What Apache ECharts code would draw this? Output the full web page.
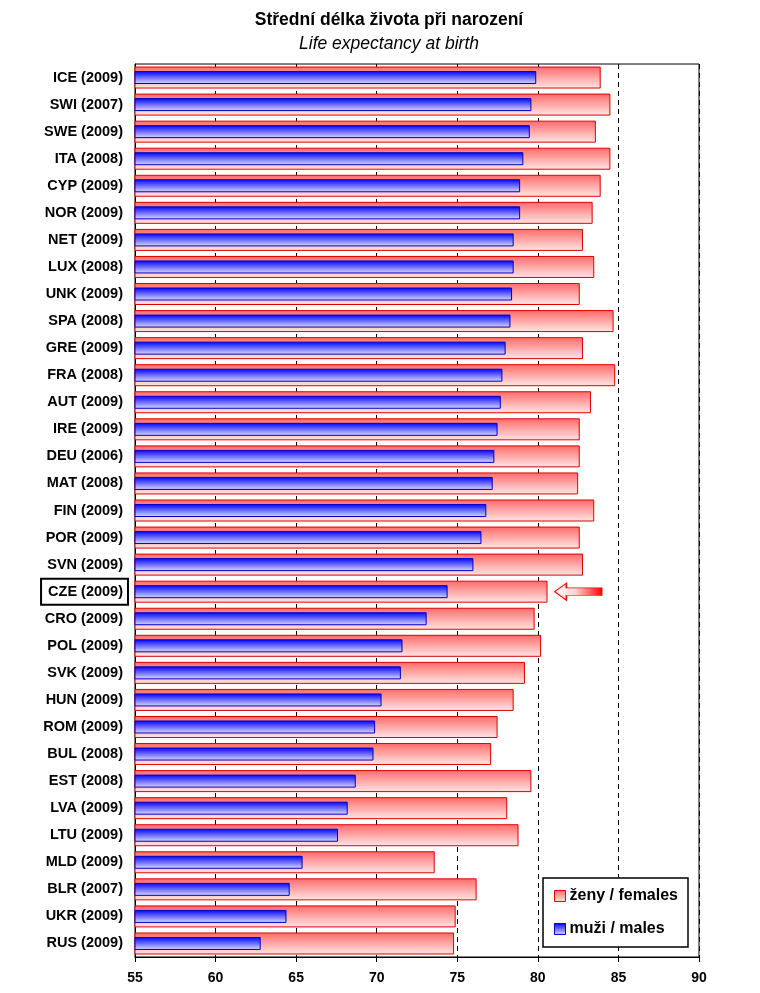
<!DOCTYPE html>
<html><head><meta charset="utf-8">
<script src="https://cdn.jsdelivr.net/npm/echarts@6/dist/echarts.min.js"></script>
<style>html,body{margin:0;padding:0;background:#fff}#c{width:760px;height:993px}</style>
</head><body><div id="c"></div>
<script>
const categories = ["ICE (2009)","SWI (2007)","SWE (2009)","ITA (2008)","CYP (2009)","NOR (2009)","NET (2009)","LUX (2008)","UNK (2009)","SPA (2008)","GRE (2009)","FRA (2008)","AUT (2009)","IRE (2009)","DEU (2006)","MAT (2008)","FIN (2009)","POR (2009)","SVN (2009)","CZE (2009)","CRO (2009)","POL (2009)","SVK (2009)","HUN (2009)","ROM (2009)","BUL (2008)","EST (2008)","LVA (2009)","LTU (2009)","MLD (2009)","BLR (2007)","UKR (2009)","RUS (2009)"];
const females = [83.9,84.5,83.6,84.5,83.9,83.4,82.8,83.5,82.6,84.7,82.8,84.8,83.3,82.6,82.6,82.5,83.5,82.6,82.8,80.6,79.8,80.2,79.2,78.5,77.5,77.1,79.6,78.1,78.8,73.6,76.2,74.9,74.8];
const males = [79.9,79.6,79.5,79.1,78.9,78.9,78.5,78.5,78.4,78.3,78.0,77.8,77.7,77.5,77.3,77.2,76.8,76.5,76.0,74.4,73.1,71.6,71.5,70.3,69.9,69.8,68.7,68.2,67.6,65.4,64.6,64.4,62.8];
const xTicks = [55,60,65,70,75,80,85,90];
const highlight = "CZE (2009)";
const arrowValue = 82.5;

const chart = echarts.init(document.getElementById('c'), null, {renderer:'canvas'});
const fem = new echarts.graphic.LinearGradient(0,0,0,1,[{offset:0,color:'#ff6a6a'},{offset:1,color:'#ffe6e6'}]);
const mal = new echarts.graphic.LinearGradient(0,0,0,1,[{offset:0,color:'#0000ff'},{offset:1,color:'#dcdcff'}]);
const FONT = 'Liberation Sans, Arial';
const catAxis = (show) => ({
  type:'category', data:categories, inverse:true, show:show,
  axisLine:{show:true,lineStyle:{color:'#000',width:1}},
  axisTick:{show:false},
  axisLabel:{
    margin:7,
    formatter: v => v===highlight ? '{box|'+v+'}' : '{n|'+v+'}',
    rich:{
      n:{fontFamily:FONT,fontWeight:'bold',fontSize:14.5,color:'#000',padding:[0,5,0,0]},
      box:{fontFamily:FONT,fontWeight:'bold',fontSize:14.5,color:'#000',padding:[6,5,5,7],borderColor:'#000',borderWidth:2}
    }
  }
});
chart.setOption({
  animation:false,
  backgroundColor:'#fff',
  title:[
    {text:'Střední délka života při narození',left:384,top:6,textAlign:'center',
     textStyle:{fontFamily:FONT,fontWeight:'bold',fontSize:17.5,color:'#000'}},
    {text:'Life expectancy at birth',left:384,top:30,textAlign:'center',
     textStyle:{fontFamily:FONT,fontWeight:'normal',fontStyle:'italic',fontSize:17.5,color:'#000'}}
  ],
  grid:{left:135,right:61,top:64,bottom:36,show:true,borderColor:'#000',borderWidth:1,containLabel:false},
  legend:{
    orient:'vertical',left:543,top:878,
    padding:[10,10,10,11],itemGap:17,
    backgroundColor:'#fff',borderColor:'#000',borderWidth:1.5,
    itemWidth:11,itemHeight:11,icon:'rect',
    textStyle:{fontFamily:FONT,fontWeight:'bold',fontSize:16,color:'#000',padding:[0,0,0,-1]},
    data:[
      {name:'ženy / females',itemStyle:{color:fem,borderColor:'#e00000',borderWidth:1}},
      {name:'muži / males',itemStyle:{color:mal,borderColor:'#0000c0',borderWidth:1}}
    ]
  },
  xAxis:{
    type:'value',min:55,max:90,interval:5,
    axisLine:{show:true,lineStyle:{color:'#000'}},
    axisTick:{show:true,length:5,inside:false,lineStyle:{color:'#000'}},
    axisLabel:{margin:14,fontFamily:FONT,fontWeight:'bold',fontSize:14,color:'#000',
      formatter: v => xTicks.includes(v) ? String(v) : ''},
    splitLine:{show:true,lineStyle:{color:'#000',type:[5,4],width:1}}
  },
  yAxis:[catAxis(true), Object.assign(catAxis(false),{axisLine:{show:false}})],
  series:[
    {name:'ženy / females',type:'bar',yAxisIndex:0,data:females,barWidth:22,
     itemStyle:{color:fem,borderColor:'#e00000',borderWidth:1},
     markPoint:{
       symbol:'path://M0,9 L12,0 L12,5 L48,5 L48,13 L12,13 L12,18 Z',
       symbolSize:[47,17],silent:true,
       label:{show:false},
       itemStyle:{color:new echarts.graphic.LinearGradient(0,0,1,0,[{offset:0,color:'#ffffff'},{offset:0.45,color:'#ffd0d0'},{offset:1,color:'#ff0000'}]),borderColor:'#ff0000',borderWidth:1},
       data:[{coord:[arrowValue,highlight]}]
     }},
    {name:'muži / males',type:'bar',yAxisIndex:1,data:males,barWidth:13,z:3,
     itemStyle:{color:mal,borderColor:'#0000c0',borderWidth:1}}
  ]
});
</script></body></html>
